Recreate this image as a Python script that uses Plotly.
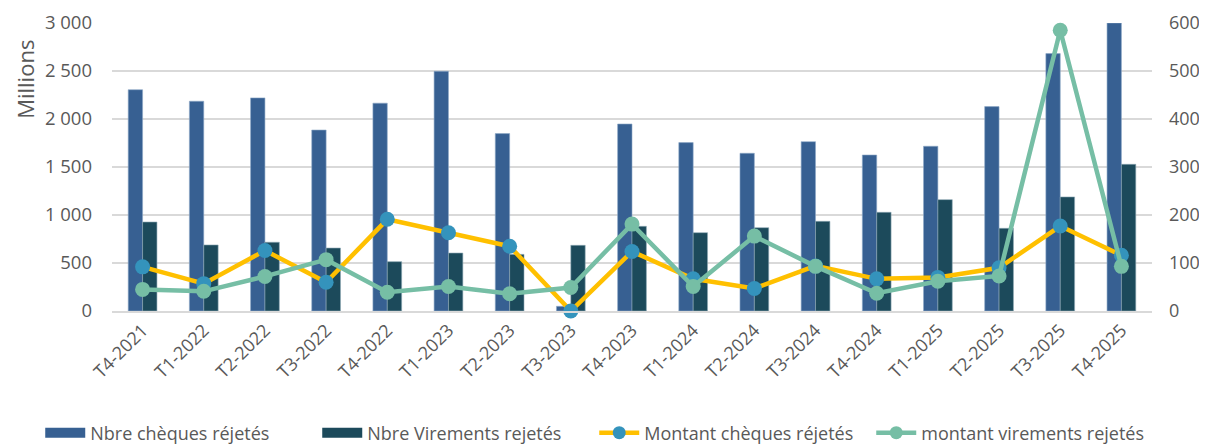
import plotly.graph_objects as go

categories = ["T4-2021", "T1-2022", "T2-2022", "T3-2022", "T4-2022", "T1-2023", "T2-2023",
              "T3-2023", "T4-2023", "T1-2024", "T2-2024", "T3-2024", "T4-2024", "T1-2025",
              "T2-2025", "T3-2025", "T4-2025"]
nbre_cheques = [2305, 2185, 2220, 1885, 2165, 2497, 1848, 49, 1948, 1754, 1643, 1764, 1625, 1716,
                2129, 2681, 3000]
nbre_virements = [927, 688, 716, 656, 514, 604, 590, 684, 882, 816, 868, 934, 1028, 1160, 861,
                  1188, 1528]
montant_cheques = [92, 57, 126, 60, 191, 163, 135, 0, 124, 67, 47, 94, 67, 70, 90, 177, 116]
montant_virements = [45, 41, 72, 107, 39, 51, 36, 49, 181, 51, 156, 93, 37, 62, 73, 585, 93]

FONT = "Open Sans, Noto Sans, sans-serif"
GREY = "#595959"
C_CHQ = "#376092"
C_VIR = "#1C4A5B"
C_YEL = "#FFC000"
C_MBLUE = "#3493BC"
C_GREEN = "#76BEA5"

fig = go.Figure()
fig.add_trace(go.Bar(x=categories, y=nbre_cheques, name="Nbre chèques réjetés", showlegend=False,
                     legendgroup="a",
                     marker=dict(color=C_CHQ, line=dict(color="#8FA9C8", width=0.6))))
fig.add_trace(go.Bar(x=categories, y=nbre_virements, name="Nbre Virements rejetés", showlegend=False,
                     legendgroup="b",
                     marker=dict(color=C_VIR, line=dict(color="#8FA9B5", width=0.6))))
fig.add_trace(go.Scatter(x=categories, y=montant_cheques, name="Montant chèques réjetés",
                         yaxis="y2", mode="lines+markers", showlegend=False, legendgroup="c",
                         cliponaxis=False,
                         line=dict(color=C_YEL, width=4.5),
                         marker=dict(color=C_MBLUE, size=15)))
fig.add_trace(go.Scatter(x=categories, y=montant_virements, name="montant virements rejetés",
                         yaxis="y2", mode="lines+markers", showlegend=False, legendgroup="d",
                         cliponaxis=False,
                         line=dict(color=C_GREEN, width=4.5),
                         marker=dict(color=C_GREEN, size=15)))

# legend entries (rectangular swatches like the original)
fig.add_trace(go.Scatter(x=[categories[0]], y=[None], name="Nbre chèques réjetés", mode="lines",
                         legendgroup="a", line=dict(color=C_CHQ, width=12)))
fig.add_trace(go.Scatter(x=[categories[0]], y=[None], name="Nbre Virements rejetés", mode="lines",
                         legendgroup="b", line=dict(color=C_VIR, width=12)))
fig.add_trace(go.Scatter(x=[categories[0]], y=[None], name="Montant chèques réjetés",
                         mode="lines+markers", yaxis="y2",
                         legendgroup="c", line=dict(color=C_YEL, width=4.5),
                         marker=dict(color=C_MBLUE, size=13)))
fig.add_trace(go.Scatter(x=[categories[0]], y=[None], name="montant virements rejetés",
                         mode="lines+markers", yaxis="y2",
                         legendgroup="d", line=dict(color=C_GREEN, width=4.5),
                         marker=dict(color=C_GREEN, size=13)))

# the page body has an 8px margin: compensate so the plot area lands where the original's does
fig.update_layout(
    width=1199, height=437,
    margin=dict(l=104, r=55, t=15, b=134, autoexpand=False),
    paper_bgcolor="white", plot_bgcolor="white",
    separators=", ",
    barmode="group", bargap=0.53, bargroupgap=0,
    showlegend=True,
    legend=dict(orientation="h", x=-0.069, xanchor="left", y=-0.4236, yanchor="middle",
                font=dict(family=FONT, size=18, color=GREY),
                itemwidth=40, entrywidth=222, tracegroupgap=0, traceorder="normal"),
    xaxis=dict(type="category", range=[-0.5, 16.5], tickangle=-45,
               tickfont=dict(family=FONT, size=18, color=GREY),
               showgrid=False, showline=True, linecolor="#D9D9D9", linewidth=1.5, ticks="",
               automargin=False),
    yaxis=dict(range=[0, 3000], dtick=500, tickformat=",d",
               tickfont=dict(family=FONT, size=18.5, color=GREY),
               showgrid=True, gridcolor="#D9D9D9", gridwidth=1.5, zeroline=False,
               ticks="", automargin=False, ticklabelstandoff=19),
    yaxis2=dict(range=[0, 600], dtick=100, overlaying="y", side="right",
                tickfont=dict(family=FONT, size=18, color=GREY),
                showgrid=False, zeroline=False, ticks="", automargin=False,
                ticklabelstandoff=16),
    annotations=[dict(text="Millions", xref="paper", yref="paper", x=-0.0837, y=0.806,
                      xanchor="center", yanchor="middle", textangle=-90, showarrow=False,
                      font=dict(family=FONT, size=22, color=GREY))],
)

fig.write_html("out.html")
